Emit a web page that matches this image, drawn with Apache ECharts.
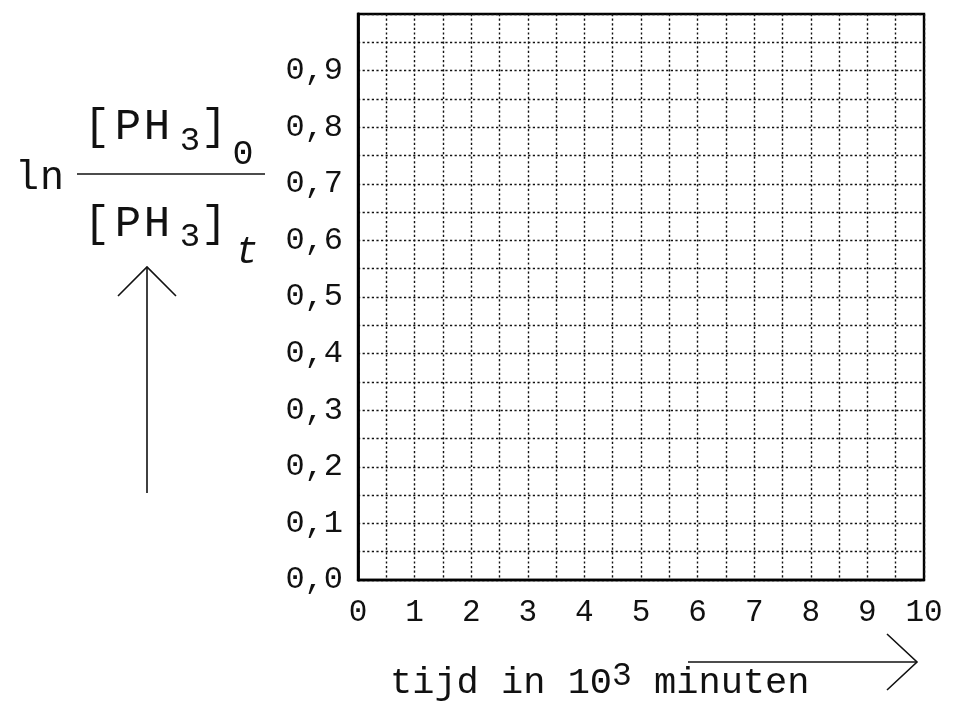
<!DOCTYPE html>
<html>
<head>
<meta charset="utf-8">
<script src="https://cdn.jsdelivr.net/npm/echarts@6/dist/echarts.min.js"></script>
<style>
html,body{margin:0;padding:0;background:#fff;}
#chart{width:962px;height:702px;}
</style>
</head>
<body>
<div id="chart"></div>
<script>
// --- data (empty plotting grid) ---
const xTickLabels = ['0','1','2','3','4','5','6','7','8','9','10'];
const yTickLabels = ['0,0','0,1','0,2','0,3','0,4','0,5','0,6','0,7','0,8','0,9',''];
const xRange = [0, 10];
const yRange = [0, 1];
const seriesData = []; // no measured points in the reference: empty grid

const FONT = '"Liberation Mono", "DejaVu Sans Mono", monospace';
const chart = echarts.init(document.getElementById('chart'), null, {renderer: 'canvas'});

const dotted = {color: '#111', width: 1.4, type: [2.2, 2.4]};

function txt(t, x, y, size, extra) {
  return Object.assign({
    type: 'text', x: x, y: y,
    style: {text: t, font: size + 'px ' + FONT, fill: '#111', align: 'center', verticalAlign: 'middle'}
  }, extra || {});
}

const graphics = [
  // ln
  txt('l', 27, 178, 40),
  txt('n', 52, 178, 40),
  // fraction line
  {type: 'line', shape: {x1: 77, y1: 174, x2: 265, y2: 174}, style: {stroke: '#111', lineWidth: 1.6}},
  // numerator
  txt('[', 97, 127, 44), txt('P', 128, 127, 44), txt('H', 157, 127, 44),
  txt('3', 190, 141, 34), txt(']', 214, 127, 44), txt('0', 243, 155, 35),
  // denominator
  txt('[', 97, 224, 44), txt('P', 128, 224, 44), txt('H', 157, 224, 44),
  txt('3', 190, 237, 34), txt(']', 214, 224, 44),
  {type: 'text', x: 247, y: 253, style: {text: 't', font: 'italic 38px ' + FONT, fill: '#111', align: 'center', verticalAlign: 'middle'}},
  // vertical arrow
  {type: 'line', shape: {x1: 147, y1: 493, x2: 147, y2: 267}, style: {stroke: '#111', lineWidth: 1.6}},
  {type: 'polyline', shape: {points: [[118, 296], [147, 267], [176, 296]]}, style: {stroke: '#111', lineWidth: 1.6, fill: null}},
  // x title
  {type: 'text', x: 390, y: 683, style: {
    rich: {
      a: {font: '37px ' + FONT, fill: '#111'},
      s: {font: '33px ' + FONT, fill: '#111', padding: [0, 0, 14, 0]}
    },
    text: '{a|tijd in 10}{s|3}{a| minuten}', align: 'left', verticalAlign: 'middle'
  }},
  // horizontal arrow
  {type: 'line', shape: {x1: 688, y1: 662, x2: 917, y2: 662}, style: {stroke: '#111', lineWidth: 1.6}},
  {type: 'polyline', shape: {points: [[887, 634], [917, 662], [887, 690]]}, style: {stroke: '#111', lineWidth: 1.6, fill: null}}
];

chart.setOption({
  animation: false,
  backgroundColor: '#fff',
  grid: {left: 358, top: 14, width: 566, height: 566, show: true, borderColor: '#000', borderWidth: 2.4, containLabel: false},
  xAxis: {
    type: 'value', min: xRange[0], max: xRange[1], interval: 1,
    axisLine: {show: true, lineStyle: {color: '#000', width: 2.4}},
    axisTick: {show: false},
    axisLabel: {margin: 17, color: '#111', fontFamily: FONT, fontSize: 31,
      formatter: (v, i) => xTickLabels[Math.round(v)]},
    splitLine: {show: true, lineStyle: dotted},
    minorTick: {show: false, splitNumber: 2},
    minorSplitLine: {show: true, lineStyle: dotted}
  },
  yAxis: {
    type: 'value', min: yRange[0], max: yRange[1], interval: 0.1,
    axisLine: {show: true, lineStyle: {color: '#000', width: 2.8}},
    axisTick: {show: false},
    axisLabel: {margin: 15, color: '#111', fontFamily: FONT, fontSize: 32,
      formatter: (v) => yTickLabels[Math.round(v * 10)]},
    splitLine: {show: true, lineStyle: dotted},
    minorTick: {show: false, splitNumber: 2},
    minorSplitLine: {show: true, lineStyle: dotted}
  },
  series: [{type: 'scatter', data: seriesData, silent: true}],
  graphic: graphics
});
</script>
</body>
</html>
